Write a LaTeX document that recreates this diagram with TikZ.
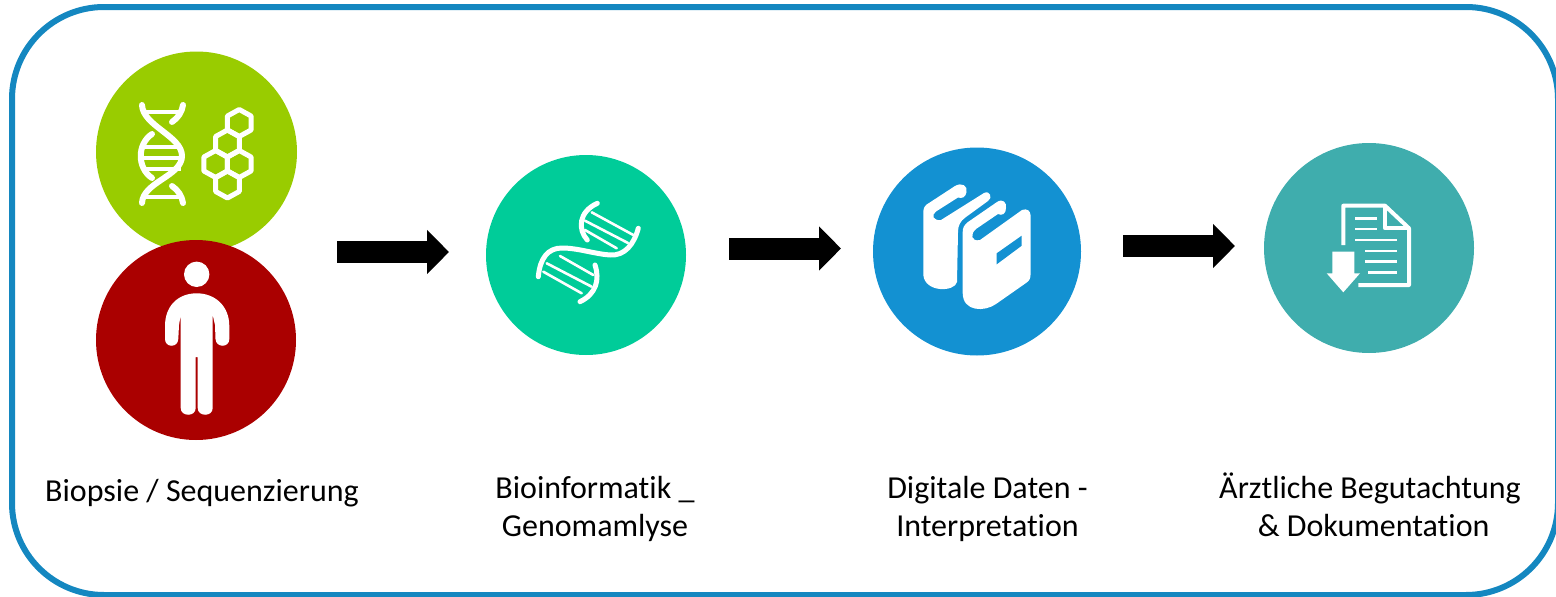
\documentclass[tikz,border=0pt]{standalone}
\usepackage{fontspec}
\setmainfont[Ligatures=NoCommon]{Carlito}
\usetikzlibrary{arrows.meta}
\definecolor{frameblue}{HTML}{1487C0}
\definecolor{limeg}{HTML}{99CC00}
\definecolor{darkred}{HTML}{AA0000}
\definecolor{mint}{HTML}{00CC99}
\definecolor{bookblue}{HTML}{1391D2}
\definecolor{tealc}{HTML}{3FADAD}
\tikzset{
  disc/.style={circle,inner sep=0pt,minimum size=#1},
  lab/.style={font=\fontsize{32}{38}\selectfont,align=center,text=black,inner sep=0pt},
  flowarrow/.style={line width=22pt,-{Triangle[length=22pt,width=43pt]},black},
  ic/.style={line width=6pt,white,line cap=round,line join=round},
  icthin/.style={line width=2.6pt,white,line cap=round,line join=round},
}
\begin{document}
\begin{tikzpicture}[x=1pt,y=-1pt]
\useasboundingbox (0,0) rectangle (1556,597);
\draw[frameblue,line width=6pt,rounded corners=92pt] (12,7) rectangle (1558,595);
\node[disc=201pt,fill=limeg] (lime) at (196.5,152) {};
\node[disc=200pt,fill=darkred] (red) at (196,340) {};
\node[disc=200pt,fill=mint] (dna) at (586,255) {};
\node[disc=208pt,fill=bookblue] (book) at (977,251.5) {};
\node[disc=210pt,fill=tealc] (doc) at (1369,248) {};
\coordinate (a1s) at (337,252); \coordinate (a1e) at (449,252);
\coordinate (a2s) at (729,248.5); \coordinate (a2e) at (841,248.5);
\coordinate (a3s) at (1123,246); \coordinate (a3e) at (1235,246);
\draw[flowarrow] (a1s) -- (a1e);
\draw[flowarrow] (a2s) -- (a2e);
\draw[flowarrow] (a3s) -- (a3e);
% lime icon: helix
\draw[ic] (142,105) .. controls (143,126) and (182,136) .. (182,156) .. controls (182,176) and (143,182) .. (142,203);
\draw[ic] (183,105) .. controls (182,112) and (178,118) .. (172,122);
\draw[ic] (152,134) .. controls (137,144) and (137,168) .. (152,178);
\draw[ic] (172,186) .. controls (178,190) and (182,196) .. (183,203);
\draw[ic,line width=4.5pt] (146,112) -- (180,112);
\draw[ic,line width=4.5pt] (146,197) -- (180,197);
\foreach \yy in {147,158,169}{\draw[ic,line width=4pt,line cap=butt] (142,\yy) -- (181,\yy);}
% hexagons
\foreach \hx/\hy in {239.25/123,227.45/143.5,215.65/164,239.25/164,227.45/184.5}{
\draw[ic,line width=5pt] (\hx,\hy-13.5) -- (\hx+11.8,\hy-7) -- (\hx+11.8,\hy+7) -- (\hx,\hy+13.5) -- (\hx-11.8,\hy+7) -- (\hx-11.8,\hy-7) -- cycle;}
% person
\node[disc=25.4pt,fill=white] (head) at (196.7,274.3) {};
\fill[white] (196.7,293.3) .. controls (178,293.3) and (165,306) .. (165,326) -- (165,339) .. controls (165,348) and (178,348) .. (178.3,339) -- (179,325) -- (180.7,315) -- (180.7,408) .. controls (180.7,417) and (195.7,417) .. (195.7,408) -- (195.7,357) -- (197.7,357) -- (197.7,408) .. controls (197.7,417) and (212.7,417) .. (212.7,408) -- (212.7,315) -- (215,325) -- (215.5,339) .. controls (216,348) and (229.3,348) .. (229.3,339) -- (229.3,326) .. controls (229.3,306) and (215,293.3) .. (196.7,293.3) -- cycle;
% dna2
\draw[ic,line width=5pt] (538.3,276.7) .. controls (540,258) and (548,248) .. (562,248) .. controls (578,248) and (595,254) .. (610,255) .. controls (625,256) and (634,244) .. (638.3,228.3);
\draw[ic,line width=5pt] (597.3,203.3) .. controls (578,212) and (578,230) .. (587.3,240);
\draw[ic,line width=5pt] (595,265) .. controls (600,280) and (596,294) .. (580,301.7);
\draw[icthin] (591.7,212.3) -- (633.3,235);
\draw[icthin] (585,220.7) -- (628,243);
\draw[icthin] (585,230) -- (616.7,248.3);
\draw[icthin] (560,256) -- (593.3,275);
\draw[icthin] (546.7,263.3) -- (591.7,286.7);
\draw[icthin] (543.3,271.7) -- (581.7,293.3);
% books
\fill[white] (923.3,212) .. controls (923.3,208) and (925,205) .. (929,203) -- (955,186) .. controls (962,182) and (968,186) .. (966.5,192) .. controls (966,197) and (962,199) .. (958,197.5) -- (936,211.5) .. controls (931,215) and (933,221) .. (941,220) -- (984,193) .. controls (990,190) and (993,198) .. (988,201) -- (966,217) .. controls (960,221) and (958,226) .. (958,232) -- (957,282) .. controls (955,292) and (925,293) .. (923.3,275) -- cycle;
\fill[white] (962.7,232) .. controls (962.7,228) and (964,225) .. (968,222) -- (997,202) .. controls (1003,198) and (1007,203) .. (1006,208) .. controls (1006,214) and (1002,216) .. (998,214) -- (976,229) .. controls (970,234) and (971,242) .. (980,240) -- (1022,210) .. controls (1027,208) and (1030.5,211) .. (1030.5,215) -- (1030.5,275) .. controls (1030.5,279) and (1029,281) .. (1026,283) -- (996,304) .. controls (985,312) and (962.7,312) .. (962.7,293) -- cycle;
\fill[bookblue] (996.7,253.3) -- (1021.7,235.7) -- (1021.7,245.7) -- (996.7,264.3) -- cycle;
% doc
\draw[white,line width=4pt,line join=round] (1343.3,245) -- (1343.3,205.7) -- (1385,205.7) -- (1409,228.3) -- (1409,285) -- (1358.3,285);
\draw[white,line width=4pt,line join=round] (1385,205.7) -- (1385,228.3) -- (1409,228.3);
\foreach \xa/\xb/\yy in {1355/1376.7/218.3,1355/1376.7/229,1355/1396.7/240,1365/1396.7/251,1365/1396.7/261.7,1368/1396.7/272.7}{
\draw[white,line width=2.6pt] (\xa,\yy) -- (\xb,\yy);}
\fill[white] (1332.3,251.7) -- (1354.3,251.7) -- (1354.3,273.3) -- (1360,273.3) -- (1343.3,292.3) -- (1326.7,273.3) -- (1332.3,273.3) -- cycle;
% labels
\node[lab] (t1) at (202,493) {Biopsie / Sequenzierung};
\node[lab] (t2) at (595,509) {Bioinformatik \_\\Genomamlyse};
\node[lab] (t3) at (987.5,509) {Digitale Daten -\\Interpretation};
\node[lab] (t4) at (1370,505) {Ärztliche Begutachtung\\\ \& Dokumentation};
\end{tikzpicture}
\end{document}
